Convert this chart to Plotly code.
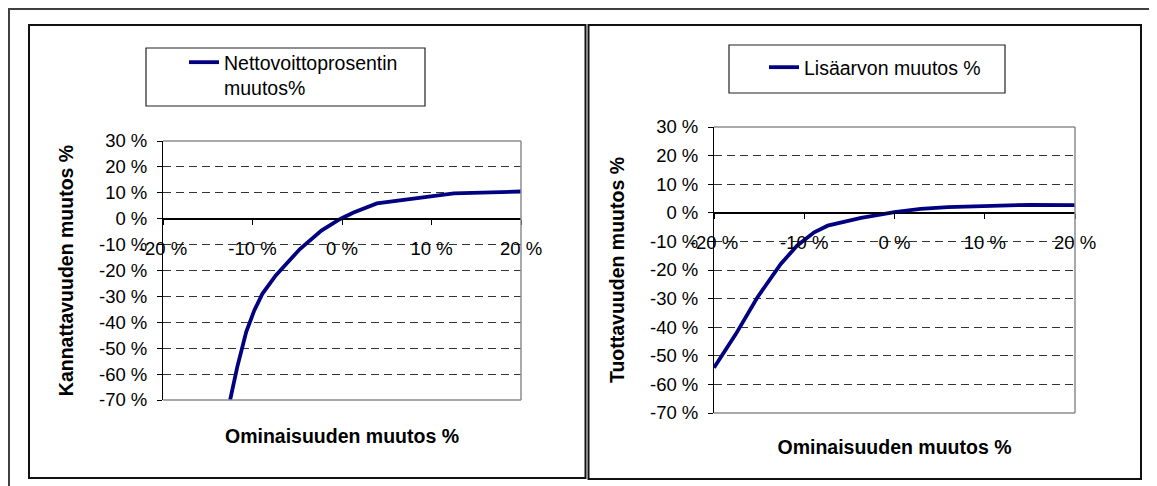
import plotly.graph_objects as go

# ---------------- data ----------------
left_x = [-12.5, -11.7, -10.7, -9.8, -8.9, -7.4, -4.7, -2.3, -0.2, 1.3, 3.9, 12.5, 20.0]
left_y = [-70.0, -57.2, -43.7, -35.4, -29.0, -21.9, -11.7, -4.6, -0.1, 2.4, 5.9, 9.8, 10.5]

right_x = [-20.0, -17.6, -15.2, -12.6, -10.8, -8.9, -7.4, -3.7, 0.0, 2.9, 5.9, 15.1, 20.0]
right_y = [-54.2, -42.5, -29.6, -17.9, -11.5, -6.8, -4.5, -1.8, 0.2, 1.4, 2.0, 2.8, 2.7]

left_name = "Nettovoittoprosentin<br>muutos%"
right_name = "Lisäarvon muutos %"

x_tickvals = [-20, -10, 0, 10, 20]
x_ticktext = ["-20 %", "-10 %", "0 %", "10 %", "20 %"]
y_tickvals = [-70, -60, -50, -40, -30, -20, -10, 0, 10, 20, 30]
y_ticktext = ["-70 %", "-60 %", "-50 %", "-40 %", "-30 %", "-20 %", "-10 %", "0 %", "10 %", "20 %", "30 %"]

left_ytitle = "Kannattavuuden muutos %"
right_ytitle = "Tuottavuuden muutos %"
xtitle = "Ominaisuuden muutos %"

# ---------------- layout helpers ----------------
# the page body adds an 8 px margin, so the figure is drawn 8 px in
OFF = 8
W, H = 1157 - OFF, 486 - OFF
def px(x):
    return (x - OFF) / W
def py(y):
    return 1 - (y - OFF) / H

FONT = "Liberation Sans, Arial, sans-serif"
NAVY = "#000080"
YR = [-70, 30]
XR = [-20, 20]

L_dom_x = [px(163), px(521)]
L_dom_y = [py(400), py(141)]
R_dom_x = [px(714), px(1075)]
R_dom_y = [py(413), py(127)]

def zero_pos(dom):
    return dom[0] + (0 - YR[0]) / (YR[1] - YR[0]) * (dom[1] - dom[0])

fig = go.Figure()
fig.add_trace(go.Scatter(x=left_x, y=left_y, mode="lines", name=left_name,
                         line=dict(color=NAVY, width=3.8), xaxis="x", yaxis="y",
                         legend="legend"))
fig.add_trace(go.Scatter(x=right_x, y=right_y, mode="lines", name=right_name,
                         line=dict(color=NAVY, width=3.8), xaxis="x2", yaxis="y2",
                         legend="legend2"))

tickfont = dict(family=FONT, size=18.5, color="black")
titlefont = dict(family=FONT, size=19.5, color="black", weight="bold")

def xaxis(dom, ydom, standoff):
    return dict(domain=dom, range=XR, tickvals=x_tickvals, ticktext=x_ticktext,
                anchor="free", position=zero_pos(ydom), automargin=False,
                showline=True, linecolor="black", linewidth=1,
                ticks="outside", ticklen=5, tickcolor="black",
                tickfont=tickfont, ticklabelstandoff=8,
                showgrid=False, zeroline=False,
                title=dict(text=xtitle, font=titlefont, standoff=standoff))

def yaxis(dom, anchor, title):
    return dict(domain=dom, range=YR, tickvals=y_tickvals, ticktext=y_ticktext,
                anchor=anchor, automargin=False,
                showline=True, linecolor="black", linewidth=1,
                ticks="outside", ticklen=5, tickcolor="black",
                tickfont=tickfont, ticklabelstandoff=6,
                showgrid=True, gridcolor="#333333", gridwidth=1, griddash="8px,5px",
                zeroline=True, zerolinecolor="black", zerolinewidth=1.2,
                title=dict(text=title, font=titlefont, standoff=20))

fig.update_layout(
    template="none",
    width=W, height=H,
    margin=dict(l=0, r=0, t=0, b=0, pad=0, autoexpand=False),
    paper_bgcolor="white", plot_bgcolor="white",
    showlegend=True,
    xaxis=xaxis(L_dom_x, L_dom_y, 171),
    yaxis=yaxis(L_dom_y, "x", left_ytitle),
    xaxis2=xaxis(R_dom_x, R_dom_y, 188),
    yaxis2=yaxis(R_dom_y, "x2", right_ytitle),
    legend=dict(x=px(184), y=py(43), xanchor="left", yanchor="top",
                bgcolor="rgba(0,0,0,0)", borderwidth=0, valign="top",
                font=dict(family=FONT, size=19.5, color="black")),
    legend2=dict(x=px(764), y=py(48), xanchor="left", yanchor="top",
                 bgcolor="rgba(0,0,0,0)", borderwidth=0, valign="top",
                 font=dict(family=FONT, size=19.5, color="black")),
)

shapes = []
# outer frame (open at the bottom)
shapes.append(dict(type="path", xref="paper", yref="paper",
                   path=f"M {px(9)} {py(492)} L {px(9)} {py(9)} L {px(1150)} {py(9)} L {px(1150)} {py(492)}",
                   line=dict(color="#404040", width=2)))
# chart boxes
for x0, y0, x1, y1 in [(29, 25, 585.5, 478), (588.5, 25, 1141, 479)]:
    shapes.append(dict(type="rect", xref="paper", yref="paper",
                       x0=px(x0), x1=px(x1), y0=py(y1), y1=py(y0),
                       line=dict(color="#111111", width=2)))
# legend boxes
for x0, y0, x1, y1 in [(146, 48, 425, 106), (729, 45, 1005, 93)]:
    shapes.append(dict(type="rect", xref="paper", yref="paper",
                       x0=px(x0), x1=px(x1), y0=py(y1), y1=py(y0),
                       line=dict(color="#222222", width=1.2)))
# plot area borders (top, right, bottom) in gray
for xa, ya in [("x", "y"), ("x2", "y2")]:
    for (a0, b0, a1, b1) in [(0, 1, 1, 1), (1, 0, 1, 1), (0, 0, 1, 0)]:
        shapes.append(dict(type="line", xref=f"{xa} domain", yref=f"{ya} domain",
                           x0=a0, y0=b0, x1=a1, y1=b1,
                           line=dict(color="#8c8c8c", width=1.5)))
fig.update_layout(shapes=shapes)

fig.write_html("out.html")
